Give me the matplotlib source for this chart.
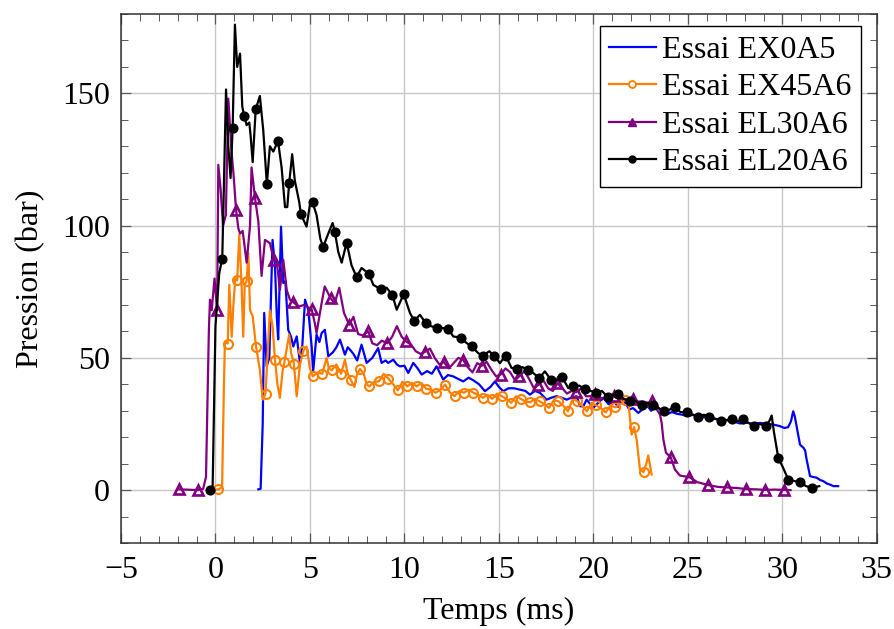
import matplotlib.pyplot as plt
from matplotlib.lines import Line2D
from matplotlib.ticker import MultipleLocator

plt.rcParams['font.family'] = ['Liberation Serif', 'DejaVu Serif']
plt.rcParams['font.size'] = 23

# EX0A5 (no markers)
ex0_t = [2.27, 2.39, 2.5, 2.58, 2.71, 2.85, 3.02, 3.15, 3.25, 3.32, 3.47, 3.59, 3.7, 3.85,
         4.0, 4.12, 4.3, 4.47, 4.6, 4.74, 4.91, 5.09, 5.17, 5.35, 5.5, 5.62, 5.79, 5.97,
         6.2, 6.4, 6.59, 6.85, 7.0, 7.12, 7.3, 7.5, 7.73, 8.0, 8.3, 8.61, 8.79, 9.0, 9.14,
         9.41, 9.6, 9.76, 10.0, 10.2, 10.47, 10.7, 10.91, 11.2, 11.45, 11.7, 12.05, 12.3,
         12.58, 12.85, 13.11, 13.4, 13.65, 13.95, 14.26, 14.55, 14.79, 15.0, 15.23, 15.5,
         15.8, 16.11, 16.4, 16.64, 16.9, 17.17, 17.52, 17.8, 18.05, 18.3, 18.58, 18.85,
         19.11, 19.29, 19.46, 19.64, 19.99, 20.25, 20.52, 20.8, 21.1, 21.3, 21.58, 21.9,
         22.1, 22.37, 22.6, 22.81, 23.05, 23.34, 23.6, 23.87, 24.15, 24.4, 24.7, 25.0,
         25.3, 25.6, 25.99, 26.3, 26.69, 27.0, 27.4, 27.75, 28.1, 28.45, 28.81, 29.2,
         29.51, 29.86, 30.1, 30.3, 30.45, 30.57, 30.65, 30.75, 30.93, 31.11, 31.2, 31.28,
         31.46, 31.6, 31.81, 32.0, 32.16, 32.35, 32.51, 32.7, 32.95]
ex0_p = [0.3, 0.5, 25, 67, 46.8, 50, 94.6, 84.5, 65, 57, 99.6, 78.3, 79, 60.6,
         58, 54.3, 58.1, 48.1, 55, 72, 68.2, 54.3, 44.9, 58.8, 56, 59.4, 60.6, 50.6,
         52, 54, 56.9, 51.2, 54, 53.1, 51.5, 49, 55, 48.1, 50, 53.7, 48.1, 49, 48.1,
         49.3, 47.5, 46.8, 47, 44.3, 48.1, 46, 43.7, 45, 44, 46.8, 41.8, 43.5,
         43, 42, 41.1, 42.5, 41.5, 40, 37.4, 39, 41.1, 39, 37.4, 38.5,
         38.5, 38, 37.5, 36.1, 37.5, 36.8, 34.2, 35, 35.5, 35, 34.2, 35,
         35.5, 31.7, 31.7, 34.2, 31.1, 33, 34.9, 32.5, 33.5, 31.5, 34.2, 30.5,
         31, 29.2, 30.5, 32.3, 30, 31.7, 30, 28.6, 29.5, 28.9, 28.5, 28,
         28.5, 27.5, 27.7, 27, 26.7, 26.5, 26, 25.2, 25.5, 25, 25.4, 25,
         24.8, 24.2, 23.5, 23.8, 26, 29.8, 28, 24.2, 17.2, 16, 15, 11.6,
         5.3, 5, 4.7, 3.8, 3.4, 2.5, 2.1, 1.5, 1.5]

# EX45A6 line and circle marks
ex45_t = [-0.1, 0.35, 0.45, 0.5, 0.73, 0.86, 0.94, 1.05, 1.26, 1.38, 1.47, 1.55, 1.74,
          1.83, 1.97, 2.35, 2.5, 2.8, 2.88, 3.02, 3.28, 3.41, 3.55, 3.9, 4.0, 4.3, 4.47,
          4.82, 5.0, 5.4, 5.88, 6.0, 6.4, 6.85, 7.0, 7.35, 7.5, 7.85, 8.0, 8.4, 8.9,
          9.35, 9.9, 10.4, 10.9, 11.4, 11.9, 12.4, 12.9, 13.4, 13.9, 14.4, 14.9, 15.4,
          15.9, 16.4, 16.9, 17.4, 17.9, 18.4, 18.9, 19.4, 19.9, 20.4, 20.9, 21.4, 21.84,
          22.02, 22.29, 22.46, 22.81, 22.9, 23.08]
ex45_p = [0, 1, 40, 56, 77.6, 58, 69, 80, 96.5, 78, 58, 78, 89.6,
          68, 65.7, 45.5, 34.2, 57, 68, 62, 40, 34.9, 45, 58.8, 52, 35.5, 47.4,
          54.3, 46, 44.5, 50, 46, 47.5, 49.3, 44, 39, 44, 44, 40, 41, 44,
          40.5, 41, 40.5, 40.5, 38, 38, 37, 37.5, 38, 36, 36, 36.5, 34.5,
          35.5, 33.5, 34.5, 32.5, 34, 32, 34.5, 32, 33, 31, 32, 32.5, 33.6,
          21, 19, 7.8, 10.3, 13.1, 5.9]
ex45_mt = [0.15, 0.65, 1.15, 1.65, 2.15, 2.65, 3.15, 3.65, 4.15, 4.65, 5.15, 5.65, 6.15,
           6.65, 7.15, 7.65, 8.15, 8.65, 9.15, 9.65, 10.15, 10.65, 11.15, 11.65, 12.15,
           12.65, 13.15, 13.65, 14.15, 14.65, 15.15, 15.65, 16.15, 16.65, 17.15, 17.65,
           18.15, 18.65, 19.15, 19.65, 20.15, 20.65, 21.15, 21.65, 22.15, 22.65]
ex45_mp = [0.3, 55.4, 79.3, 79, 54.1, 36.5, 49.3, 48.5, 47.8, 52.7, 43, 44, 45.3,
           44, 41.8, 45.8, 39.2, 41.1, 42.2, 37.7, 39.2, 39.2, 38.3, 36.8, 39.9,
           35.5, 36.8, 36.8, 34.9, 34.5, 35.5, 33, 34.5, 33.2, 33.6, 31.1,
           33.6, 29.8, 33.6, 29.8, 32, 29.4, 31.3, 34, 23.8, 6.8]

# EL30A6 line and triangle marks
el30_t = [-0.65, -0.5, -0.35, -0.29, -0.2, -0.05, 0.15, 0.27, 0.4, 0.55, 0.68, 0.86,
          0.95, 1.21, 1.3, 1.44, 1.65, 1.83, 1.91, 2.27, 2.44, 2.62, 2.88, 3.25, 3.41,
          3.59, 3.77, 3.94, 4.38, 4.7, 5.26, 5.35, 5.6, 5.78, 6.3, 6.55, 6.8, 7.3, 7.55,
          7.8, 8.3, 8.55, 8.8, 9.35, 9.6, 9.85, 10.35, 10.6, 10.85, 11.35, 11.6, 11.85,
          12.35, 12.6, 12.85, 13.35, 13.6, 13.85, 14.35, 14.6, 14.85, 15.35, 15.6, 15.85,
          16.35, 16.6, 16.85, 17.35, 17.6, 17.85, 18.35, 18.6, 18.85, 19.35, 19.6, 19.85,
          20.35, 20.6, 20.85, 21.35, 21.6, 21.85, 22.35, 22.6, 22.85, 23.3, 23.52, 23.61,
          23.7, 23.84, 24.31, 24.58, 25.5, 26.6, 27.6, 28.6, 29.6, 30.43]
el30_p = [0.5, 5, 60, 72, 68, 80, 123, 114, 100, 104, 148, 127,
          120, 99, 97, 98, 86, 100, 122, 101.5, 81, 94.6, 93.4, 86, 75.7,
          87, 75.7, 72, 69.4, 70, 63, 59.4, 70, 77, 70.5, 76.5, 67, 65.5, 59,
          58.5, 55.5, 54.8, 56.5, 58, 62, 58, 55, 52.5, 51.5, 53.5, 50, 47.5,
          46, 48, 50, 46.5, 44.5, 48, 48.5, 45.5, 43, 46, 44.5, 41.5,
          45, 42, 38.5, 41.5, 38.5, 37.5, 38.5, 36.5, 37.5, 38.5, 35.5, 35.5,
          35, 34.5, 35.5, 34.5, 34.5, 34, 33.5, 33.5, 33, 31, 28.6, 25.4,
          19.1, 14.1, 7.8, 5.5, 3, 1.2, 0.8, 0.3, 0.2, 0]
el30_mt = [-1.91, -0.91, 0.09, 1.09, 2.09, 3.09, 4.09, 5.09, 6.09, 7.08, 8.09, 9.09,
           10.09, 11.09, 12.08, 13.1, 14.08, 15.09, 16.07, 17.09, 18.09, 19.09, 20.08,
           21.08, 22.08, 23.08, 24.08, 25.08, 26.08, 27.08, 28.08, 29.08, 30.08]
el30_mp = [0.3, 0, 68, 106, 110.6, 87, 71.3, 68.4, 72.6, 62.5, 60, 55.5,
           56.2, 52.3, 48.5, 49.3, 47, 43.7, 43, 39.8, 40.4, 37, 36.5,
           35.5, 34.5, 33.6, 12.6, 4.9, 1.9, 1.0, 0.4, 0.1, 0.1]

# EL20A6 line and dot marks
el20_t = [-0.15, 0.0, 0.2, 0.56, 0.68, 0.8, 1.03, 1.15, 1.3, 1.42, 1.65, 1.79, 1.86,
          1.97, 2.35, 2.53, 2.88, 3.06, 3.5, 3.68, 3.8, 4.06, 4.2, 4.43, 4.82, 5.0,
          5.35, 5.55, 5.97, 6.2, 6.5, 6.68, 7.2, 7.73, 8.35, 9.06, 9.59, 10.29, 10.82,
          11.4, 12.02, 12.58, 13.29, 13.9, 14.49, 15.05, 15.67, 16.25, 16.81, 17.43,
          18.05, 18.67, 19.25, 19.85, 20.45, 21.0, 21.6, 22.25, 22.85, 23.45, 24.05,
          24.6, 25.25, 25.85, 26.45, 27.0, 27.6, 28.2, 28.8, 29.3, 29.43, 29.55, 30.0,
          30.6, 31.25, 31.95]
el20_p = [1, 62, 82, 151.5, 130, 118, 176, 160, 165, 145, 138, 139, 134,
          124, 149, 136, 130, 128, 122, 107, 107, 127, 117, 109, 99.6, 108,
          104, 95, 97, 101, 90, 86, 85, 84, 77.6, 76.5, 68.2, 67, 66.3,
          62, 61.3, 58.1, 55.6, 51.8, 52.5, 48, 46.2, 46.5, 44.3, 44.9,
          41.5, 38.6, 39.5, 37.5, 37.5, 36, 34.5, 33.5, 33, 31, 30.5,
          29.5, 28.5, 28.5, 27, 26.5, 26, 25.5, 25, 26, 28.2, 22, 9,
          3.5, 1.5, 1.5]
el20_mt = [-0.28, 0.36, 0.91, 1.52, 2.13, 2.72, 3.31, 3.9, 4.52, 5.14, 5.7, 6.32, 6.94,
           7.47, 8.12, 8.74, 9.36, 9.96, 10.52, 11.12, 11.7, 12.32, 12.97, 13.56, 14.14,
           14.75, 15.35, 15.97, 16.55, 17.13, 17.74, 18.35, 18.93, 19.55, 20.13, 20.75,
           21.31, 21.93, 22.55, 23.13, 23.75, 24.31, 24.93, 25.55, 26.13, 26.73, 27.31,
           27.93, 28.49, 29.11, 29.78, 30.31, 30.93, 31.55]
el20_mp = [0, 87.5, 137, 141.5, 144, 115.6, 132, 116, 104.4, 108.8, 92, 97.6, 93.6,
           80.5, 81.8, 76, 73.8, 74.1, 64, 63.2, 61.3, 61, 57.7, 54.3, 50.8,
           50.8, 50.8, 45.9, 45.3, 42.4, 41.8, 42.6, 39.2, 38.2, 36.8, 35.2,
           36.4, 33.6, 32.3, 32, 29.8, 31.5, 29.4, 27.7, 27.7, 26.3, 26.7,
           26.7, 24.2, 24.2, 12.2, 4.0, 3.0, 0.9]

labels = ['Essai EX0A5', 'Essai EX45A6', 'Essai EL30A6', 'Essai EL20A6']

BLUE = (0, 0, 1)
ORANGE = (1, 0.5, 0)
VIOLET = (0.5, 0, 0.5)


def merged(t, p, mt, mp):
    # the marks sit on the measured curve, so put them in the line too
    pts = sorted(zip(list(t) + list(mt), list(p) + list(mp)))
    return [a for a, b in pts], [b for a, b in pts]


fig = plt.figure(figsize=(8.94, 6.29), dpi=100)
ax = fig.add_axes([0.1353, 0.1367, 0.8456, 0.841])

lw = 1.6
ax.plot(ex0_t, ex0_p, color=BLUE, lw=lw, zorder=3)

t, p = merged(ex45_t, ex45_p, ex45_mt, ex45_mp)
ax.plot(t, p, color=ORANGE, lw=lw, zorder=4)
ax.plot(ex45_mt, ex45_mp, ls='none', marker='o', ms=6.5, mfc='none', mec=ORANGE, mew=1.5, zorder=4)

t, p = merged(el30_t, el30_p, el30_mt, el30_mp)
ax.plot(t, p, color=VIOLET, lw=lw, zorder=5)
ax.plot(el30_mt, el30_mp, ls='none', marker='^', ms=7, mfc='none', mec=VIOLET, mew=1.9, zorder=5)

t, p = merged(el20_t, el20_p, el20_mt, el20_mp)
ax.plot(t, p, color='black', lw=lw, zorder=6)
ax.plot(el20_mt, el20_mp, ls='none', marker='o', ms=6.3, color='black', zorder=6)

ax.set_xlim(-5, 35)
ax.set_ylim(-20, 180)
ax.xaxis.set_major_locator(MultipleLocator(5))
ax.xaxis.set_minor_locator(MultipleLocator(1))
ax.yaxis.set_major_locator(MultipleLocator(50))
ax.yaxis.set_minor_locator(MultipleLocator(10))
ax.grid(True, which='major', color='#c8c8c8', lw=1.0, zorder=0)
ax.set_axisbelow(True)
ax.tick_params(which='both', direction='in', top=True, right=True, color='0.35')
ax.tick_params(which='major', length=7, width=0.9, pad=8)
ax.tick_params(axis='x', which='major', pad=9)
ax.tick_params(which='minor', length=5, width=0.7)
for s in ax.spines.values():
    s.set_color('0.2')
    s.set_linewidth(1.1)

ax.set_xlabel('Temps (ms)', labelpad=9)
ax.set_ylabel('Pression (bar)', labelpad=12)

handles = [
    Line2D([], [], color=BLUE, lw=lw),
    Line2D([], [], color=ORANGE, lw=lw, marker='o', ms=5, mfc='white', mew=1.3),
    Line2D([], [], color=VIOLET, lw=lw, marker='^', ms=6),
    Line2D([], [], color='black', lw=lw, marker='o', ms=5),
]
leg = ax.legend(handles, labels, loc='upper right', bbox_to_anchor=(0.979, 0.977),
                borderaxespad=0, fancybox=False, framealpha=1, edgecolor='black',
                handlelength=1.45, handletextpad=0.2, labelspacing=0.25,
                borderpad=0.3, numpoints=1)
leg.get_frame().set_linewidth(1.0)

fig.savefig('out.png', dpi=100)
